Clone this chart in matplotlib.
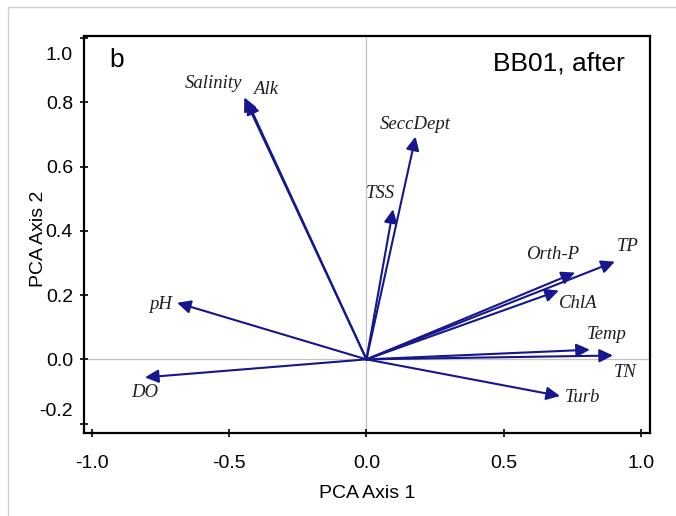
import matplotlib.pyplot as plt
import matplotlib.transforms as mtransforms
from matplotlib.lines import Line2D

# PCA loadings (axis 1, axis 2) for each water quality variable
variables = ['Salinity', 'Alk', 'SeccDept', 'TSS', 'pH', 'DO',
             'Orth-P', 'TP', 'ChlA', 'Temp', 'TN', 'Turb']
axis1 = [-0.445, -0.435, 0.179, 0.097, -0.690, -0.807,
         0.760, 0.905, 0.701, 0.814, 0.898, 0.705]
axis2 = [0.815, 0.805, 0.693, 0.467, 0.176, -0.056,
         0.270, 0.304, 0.214, 0.030, 0.012, -0.114]

xticks = [-1.0, -0.5, 0.0, 0.5, 1.0]
yticks = [-0.2, 0.0, 0.2, 0.4, 0.6, 0.8, 1.0]

# label offsets from arrow tips, in points
label_offsets = {
    'Salinity': (-22, 10), 'Alk': (13, 8), 'SeccDept': (0, 9),
    'TSS': (-9, 11), 'pH': (-12, -1), 'DO': (0, -11),
    'Orth-P': (-16, 13), 'TP': (9, 11), 'ChlA': (14, -9),
    'Temp': (12, 11), 'TN': (9, -12), 'Turb': (16, -1),
}

arrow_color = '#16168e'

plt.rcParams['font.family'] = ['Liberation Sans', 'DejaVu Sans']

fig = plt.figure(figsize=(6.76, 5.16), dpi=100)
ax = fig.add_axes([0.1243, 0.1609, 0.8372, 0.7693])

# thin grey frame around the figure
fig.add_artist(Line2D([8 / 676, 8 / 676, 1.0], [0.0, 1 - 7 / 516, 1 - 7 / 516],
                      transform=fig.transFigure, color='#cfcfcf', lw=1.0))

ax.axhline(0, color='#c4c4c4', lw=0.9, zorder=1)
ax.axvline(0, color='#c4c4c4', lw=0.9, zorder=1)

for name, x, y in zip(variables, axis1, axis2):
    ax.annotate('', xy=(x, y), xytext=(0, 0),
                arrowprops=dict(arrowstyle='-|>,head_length=0.45,head_width=0.22',
                                color=arrow_color, lw=1.5,
                                mutation_scale=18, shrinkA=0, shrinkB=0),
                zorder=3)
    dx, dy = label_offsets[name]
    ax.annotate(name, xy=(x, y), xytext=(dx, dy), textcoords='offset points',
                ha='center', va='center', fontsize=13.5, style='italic',
                family='Liberation Serif', color='#1e1e1e')

ax.set_xlim(-1.029, 1.033)
ax.set_ylim(-0.229, 1.006)
ax.set_xticks(xticks)
ax.set_yticks(yticks)
ax.set_xticklabels([f'{t:.1f}' for t in xticks])
ax.set_yticklabels([f'{t:.1f}' for t in yticks])

for side in ['left', 'right', 'top', 'bottom']:
    ax.spines[side].set_linewidth(1.6)
ax.tick_params(direction='inout', length=6, width=1.2,
               labelsize=14, colors='black')
ax.tick_params(axis='x', pad=13)
ax.tick_params(axis='y', pad=5)

# end labels on the y axis sit inside the axis range
ylabels = ax.get_yticklabels()
ylabels[-1].set_transform(ylabels[-1].get_transform() +
                          mtransforms.ScaledTranslation(0, -11 / 72, fig.dpi_scale_trans))
ylabels[0].set_transform(ylabels[0].get_transform() +
                         mtransforms.ScaledTranslation(0, 10 / 72, fig.dpi_scale_trans))

ax.set_xlabel('PCA Axis 1', fontsize=14)
ax.set_ylabel('PCA Axis 2', fontsize=14)
ax.xaxis.set_label_coords(0.5, -0.132)
ax.yaxis.set_label_coords(-0.066, 0.49)

ax.text(0.045, 0.94, 'b', transform=ax.transAxes, fontsize=19,
        ha='left', va='center')
ax.text(0.955, 0.93, 'BB01, after', transform=ax.transAxes, fontsize=19,
        ha='right', va='center')

fig.savefig('out.png', dpi=100)
